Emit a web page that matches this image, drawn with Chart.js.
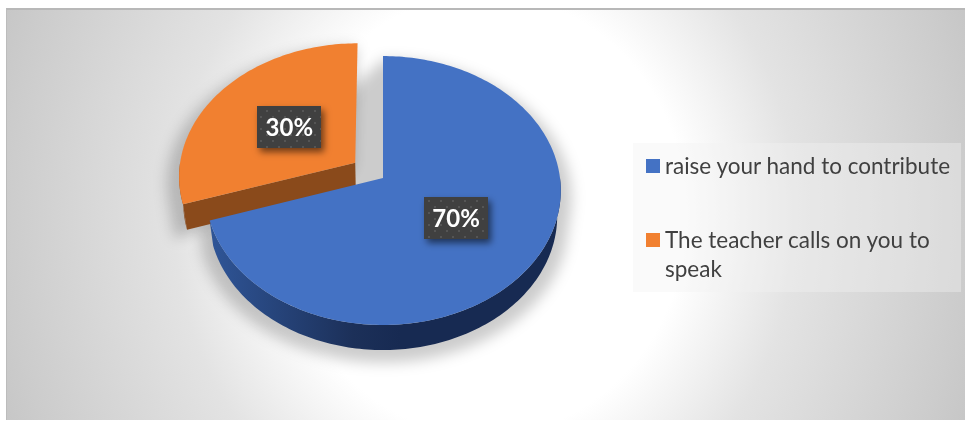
<!DOCTYPE html>
<html>
<head>
<meta charset="utf-8">
<script src="https://cdn.jsdelivr.net/npm/chart.js@4/dist/chart.umd.min.js"></script>
<style>
    html, body { margin: 0; background: #fff; }
    #frame {
        position: absolute; left: 6px; top: 8px; width: 959px; height: 412px;
        border-top: 2px solid #b8b8b8; border-left: 1px solid #bcbcbc; box-sizing: border-box;
        background: radial-gradient(ellipse 552px 603px at 478px 205px, #fff 0%, #fff 36.5%, #e3e3e3 56.5%, #cccccc 87%, #c1c1c1 100%);
    }
    canvas { position: absolute; left: 0; top: 0; }
    #legend {
        position: absolute; left: 633px; top: 143px; width: 328px; height: 149px;
        background: rgba(242,242,242,.39);
        font-family: Lato, sans-serif; color: #404040; font-size: 22.5px; line-height: 29px;
    }
    .item { position: absolute; left: 13px; right: 4px; padding-left: 19px; white-space: normal; }
    .item i { position: absolute; left: 0; top: 8px; width: 14px; height: 14px; }
</style>
</head>
<body>
<div id="frame"></div>
<canvas id="chart" width="965" height="421"></canvas>
<div id="legend"></div>
<script>
const categories = ['raise your hand to contribute', 'The teacher calls on you to speak'];
const shares = [70, 30];
const faceColors = ['#4472c4', '#f18030'];
const wallColors = [['#2f5597', '#1c3059', '#172a52'], ['#8a4a1b', '#8a4a1b', '#8a4a1b']];

// perspective used for the tilted pie: unit disc -> screen
const view = { x: 383, y: 178, a: 177, b: 133.3, p: 0.093, depth: 25.4, shrink: 0.02 };

function project(u, v, z) {
    const w = 1 - view.p * v;
    const s = 1 - view.shrink * z;
    return [view.x + view.a * s * u / w, view.y + view.b * s * v / w + view.depth * z / w];
}

function slicePoint(arc, angle, t, z) {
    const mid = (arc.startAngle + arc.endAngle) / 2;
    const off = arc.options.offset / arc.outerRadius;
    const u = Math.cos(mid) * off + Math.cos(angle) * t;
    const v = Math.sin(mid) * off + Math.sin(angle) * t;
    return project(u, v, z);
}

function rimPoints(arc, from, to, z) {
    const pts = [];
    const steps = Math.max(2, Math.ceil((to - from) / 0.02));
    for (let i = 0; i <= steps; i++) {
        pts.push(slicePoint(arc, from + (to - from) * i / steps, 1, z));
    }
    return pts;
}

function fillPoly(ctx, pts, fill) {
    ctx.beginPath();
    pts.forEach((p, i) => i ? ctx.lineTo(p[0], p[1]) : ctx.moveTo(p[0], p[1]));
    ctx.closePath();
    ctx.fillStyle = fill;
    ctx.fill();
}

function topFace(arc) {
    return [slicePoint(arc, 0, 0, 0)].concat(rimPoints(arc, arc.startAngle, arc.endAngle, 0));
}

function drawWalls(ctx, arc, index) {
    const stops = wallColors[index];
    const grad = ctx.createLinearGradient(211, 0, 400, 0);
    grad.addColorStop(0, stops[0]);
    grad.addColorStop(0.75, stops[1]);
    grad.addColorStop(1, stops[2]);

    // cut faces, only the ones turned towards the viewer
    const cut = angle => [
        slicePoint(arc, angle, 0, 0), slicePoint(arc, angle, 1, 0),
        slicePoint(arc, angle, 1, 1), slicePoint(arc, angle, 0, 1)
    ];
    if (Math.cos(arc.startAngle) < -0.01) fillPoly(ctx, cut(arc.startAngle), grad);
    if (Math.cos(arc.endAngle) > 0.01) fillPoly(ctx, cut(arc.endAngle), grad);

    // outer rim between the right and left extremes of the disc
    const from = Math.max(arc.startAngle, 0);
    const to = Math.min(arc.endAngle, Math.PI);
    if (to > from) {
        fillPoly(ctx, rimPoints(arc, from, to, 0).concat(rimPoints(arc, from, to, 1).reverse()), grad);
    }
}

function drawShadow(ctx, arcs) {
    ctx.save();
    ctx.filter = 'blur(7px)';
    arcs.forEach(arc => {
        const pts = topFace(arc).concat(rimPoints(arc, arc.startAngle, arc.endAngle, 1));
        const cx = view.x, cy = view.y + 20;
        const grown = pts.map(p => [cx + (p[0] - cx) * 1.06, cy + (p[1] - cy) * 1.03 + 8]);
        fillPoly(ctx, hull(grown), 'rgba(0,0,0,.2)');
    });
    ctx.restore();
}

// convex outline, the shadow only needs the silhouette of a slice
function hull(pts) {
    const s = pts.slice().sort((a, b) => a[0] - b[0] || a[1] - b[1]);
    const cross = (o, a, b) => (a[0] - o[0]) * (b[1] - o[1]) - (a[1] - o[1]) * (b[0] - o[0]);
    const half = list => {
        const out = [];
        list.forEach(p => {
            while (out.length > 1 && cross(out[out.length - 2], out[out.length - 1], p) <= 0) out.pop();
            out.push(p);
        });
        out.pop();
        return out;
    };
    return half(s).concat(half(s.slice().reverse()));
}

function dottedFill(ctx) {
    const tile = document.createElement('canvas');
    tile.width = tile.height = 12;
    const t = tile.getContext('2d');
    t.fillStyle = '#404040';
    t.fillRect(0, 0, 12, 12);
    t.fillStyle = '#555555';
    t.fillRect(2, 2, 2, 2);
    t.fillRect(8, 8, 2, 2);
    return ctx.createPattern(tile, 'repeat');
}

function drawLabel(ctx, arc, value) {
    const mid = (arc.startAngle + arc.endAngle) / 2;
    const p = slicePoint(arc, mid, 0.49, 0);
    const x = p[0] + 1, y = p[1] + 1;
    ctx.save();
    ctx.shadowColor = 'rgba(0,0,0,.55)';
    ctx.shadowBlur = 7;
    ctx.shadowOffsetX = 3;
    ctx.shadowOffsetY = 4;
    ctx.fillStyle = dottedFill(ctx);
    ctx.fillRect(Math.round(x - 32), Math.round(y - 21), 64, 42);
    ctx.restore();
    ctx.fillStyle = '#fff';
    ctx.font = 'bold 24px Lato, sans-serif';
    ctx.textAlign = 'center';
    ctx.textBaseline = 'middle';
    ctx.fillText(value + '%', x, y + 1);
}

const tiltedPie = {
    id: 'tiltedPie',
    beforeDatasetDraw(chart, args) {
        const ctx = chart.ctx;
        const arcs = args.meta.data;
        const order = [1, 0];
        drawShadow(ctx, arcs);
        order.forEach(i => {
            drawWalls(ctx, arcs[i], i);
            fillPoly(ctx, topFace(arcs[i]), arcs[i].options.backgroundColor);
        });
        arcs.forEach((arc, i) => drawLabel(ctx, arc, shares[i]));
        return false;
    }
};

new Chart(document.getElementById('chart'), {
    type: 'pie',
    data: {
        labels: categories,
        datasets: [{ data: shares, backgroundColor: faceColors, borderWidth: 0, offset: [0, 25] }]
    },
    options: {
        responsive: false,
        animation: false,
        layout: { padding: { left: 243, right: 442, top: 38, bottom: 103 } },
        plugins: { legend: { display: false }, tooltip: { enabled: false } }
    },
    plugins: [tiltedPie]
});

const legend = document.getElementById('legend');
const legendTops = [8, 82];
categories.forEach((name, i) => {
    legend.insertAdjacentHTML('beforeend',
        `<div class="item" style="top:${legendTops[i]}px"><i style="background:${faceColors[i]}"></i>${name}</div>`);
});
</script>
</body>
</html>
